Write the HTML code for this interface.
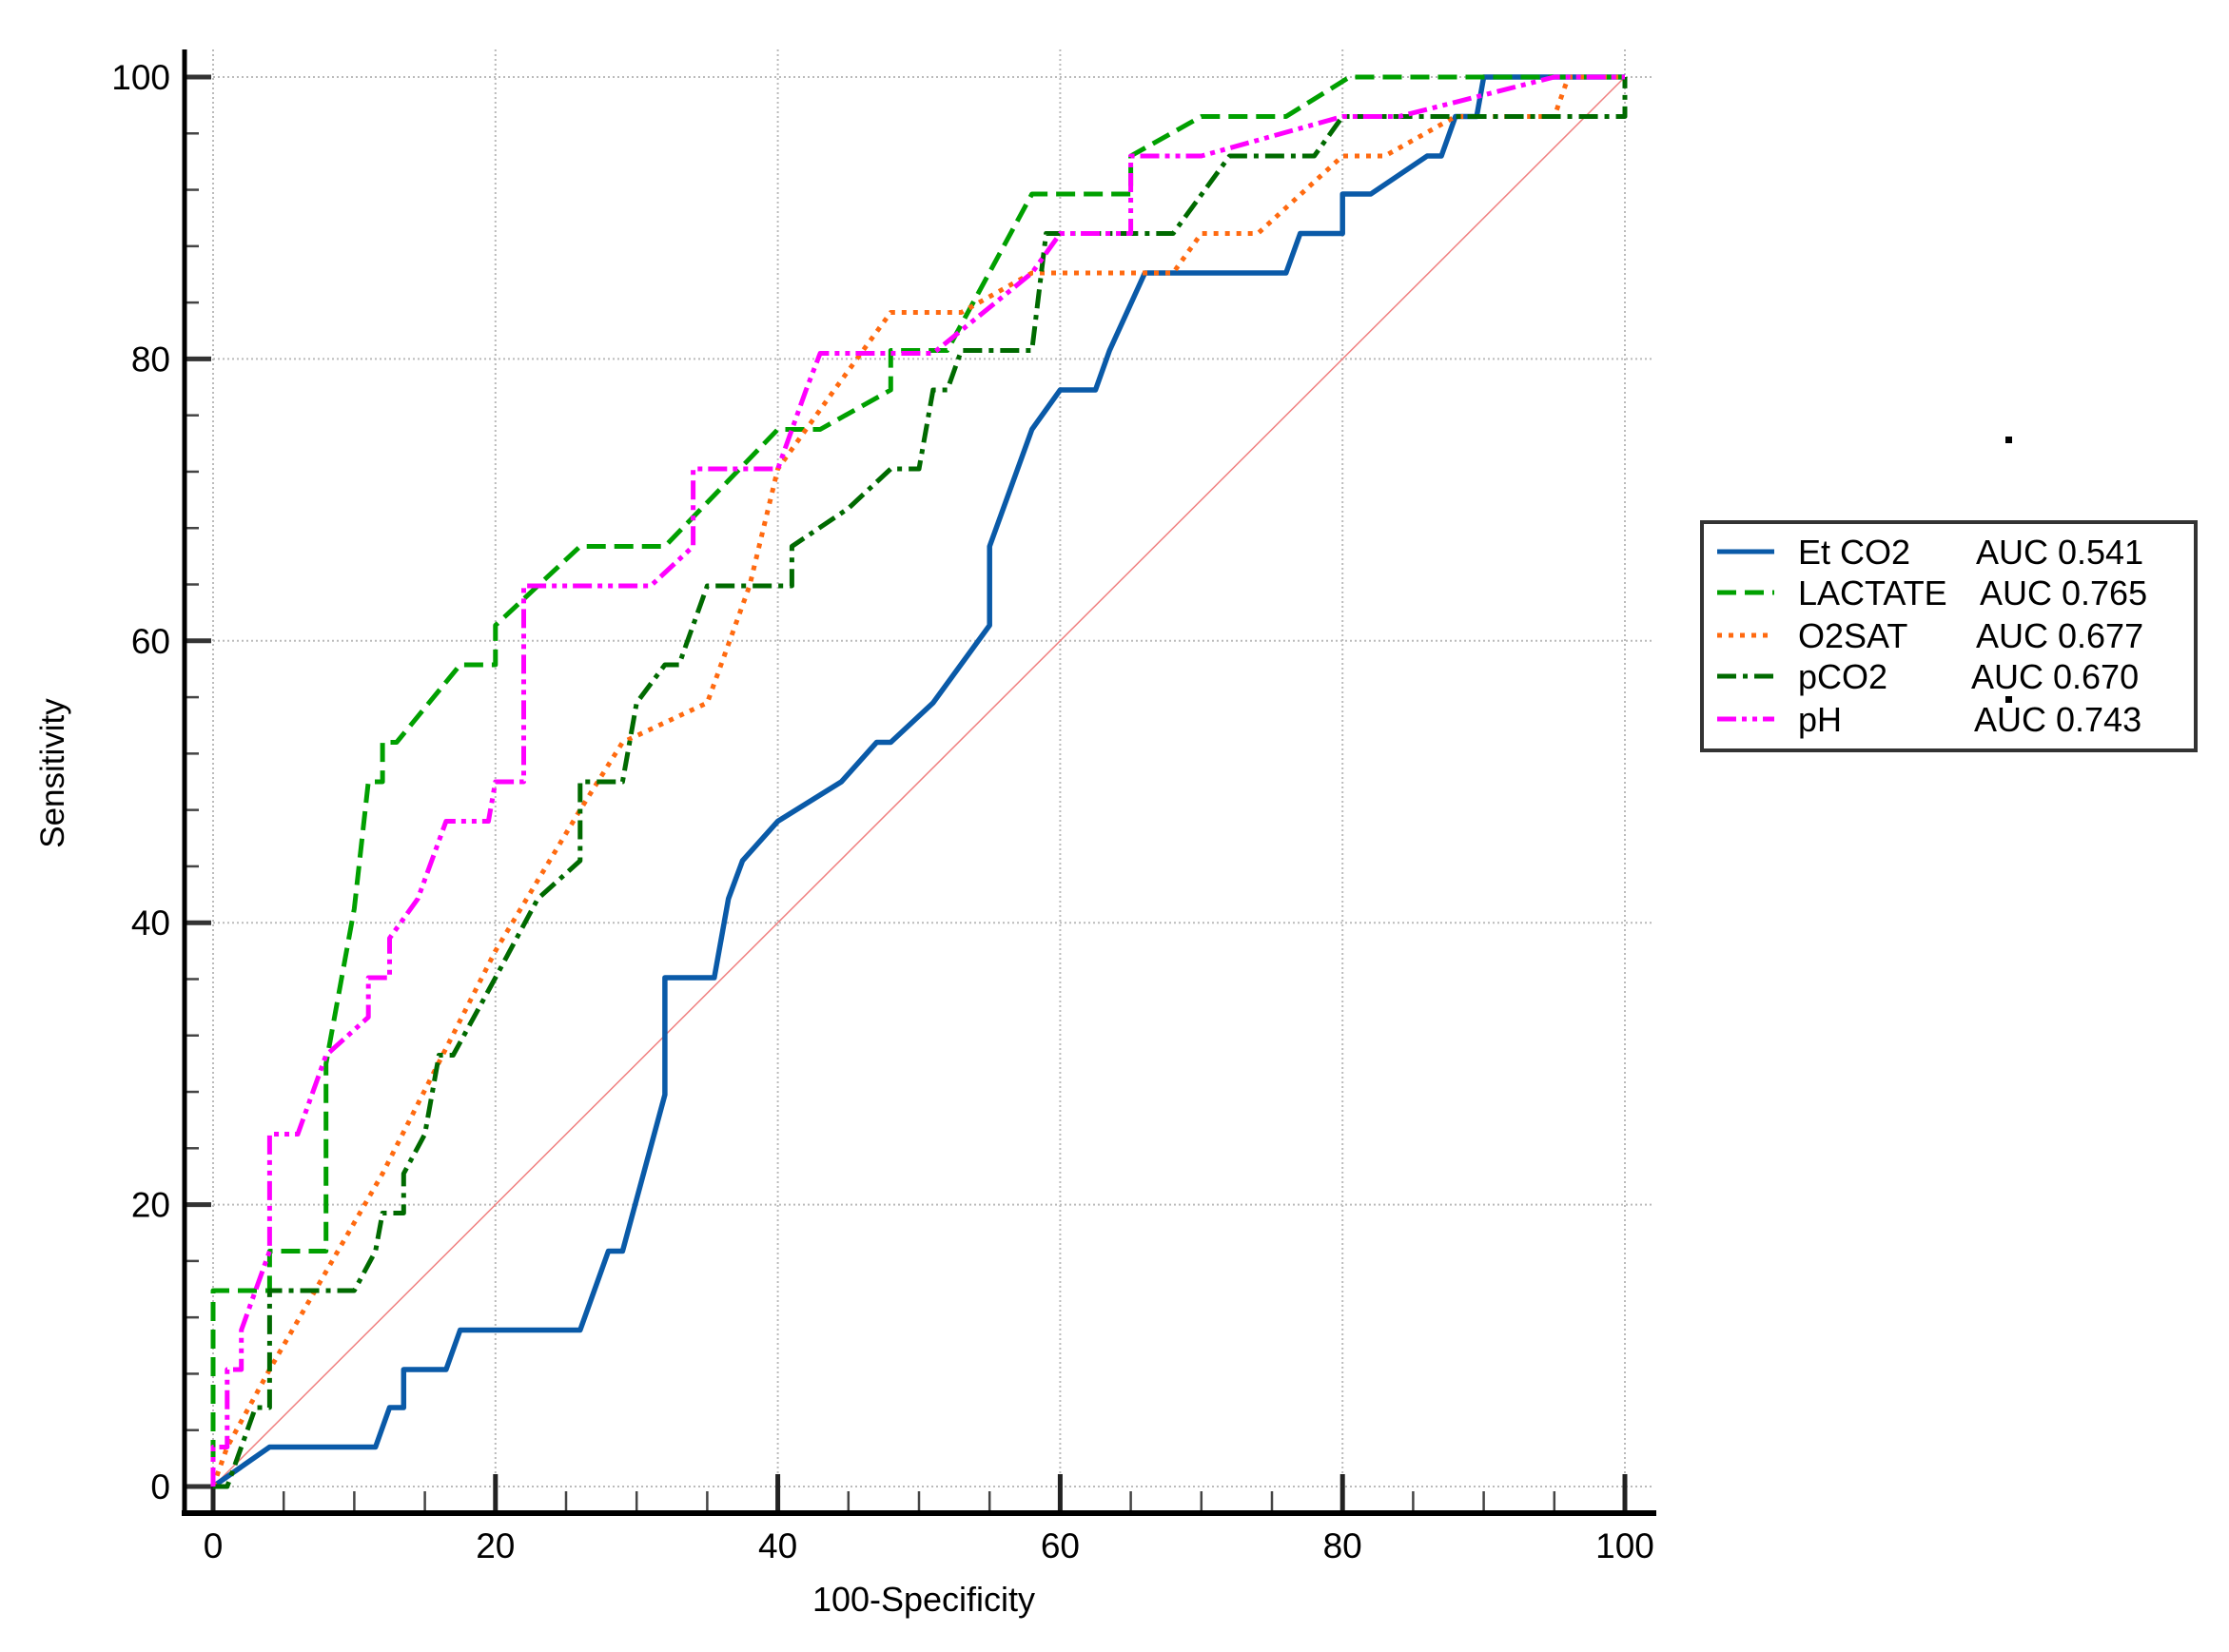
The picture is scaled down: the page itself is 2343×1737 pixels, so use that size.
<!DOCTYPE html>
<html><head><meta charset="utf-8"><style>
html,body{margin:0;padding:0;background:#fff;}
svg{display:block;font-family:"Liberation Sans",Arial,sans-serif;}
</style></head><body>
<svg id="chart" width="2343" height="1737" viewBox="0 0 2343 1737">
<g id="grid"></g>
<g id="axes"></g>
<g id="series"></g>
<text x="971" y="1694" font-size="36" text-anchor="middle">100-Specificity</text>
<text x="67" y="813" font-size="35" text-anchor="middle" transform="rotate(-90 67 813)">Sensitivity</text>
<rect x="2108" y="459" width="7" height="7" fill="#000"/>
<g>
<rect x="1789" y="549" width="519" height="240" fill="#fff" stroke="#333" stroke-width="4"/>
<g id="legend-items"></g>
<rect x="2108" y="732" width="7" height="7" fill="#000"/>
</g>
</svg>
<script>
const xTicks=[0,20,40,60,80,100];
const yTicks=[0,20,40,60,80,100];
const seriesNames=["Et CO2","LACTATE","O2SAT","pCO2","pH"];
const aucLabels=["AUC 0.541","AUC 0.765","AUC 0.677","AUC 0.670","AUC 0.743"];
const etco2X=[0,4,11.5,12.5,13.5,13.5,16.5,17.5,26,28,29,32,32,35.5,36.5,37.5,40,44.5,47,48,51,55,55,58,60,62.5,63.5,66,76,77,80,80,82,86,87,88,89.5,90,100];
const etco2Y=[0,2.8,2.8,5.6,5.6,8.3,8.3,11.1,11.1,16.7,16.7,27.8,36.1,36.1,41.7,44.4,47.2,50,52.8,52.8,55.6,61.1,66.7,75,77.8,77.8,80.6,86.1,86.1,88.9,88.9,91.7,91.7,94.4,94.4,97.2,97.2,100,100];
const lactX=[0,0,4,4,8,8,10,11,12,12,13,17.5,20,20,26,32,40,43,48,48,52,58,65,65,70,76,80.5,100];
const lactY=[0,13.9,13.9,16.7,16.7,30,41,50,50,52.8,52.8,58.3,58.3,61.1,66.7,66.7,75,75,77.8,80.6,80.6,91.7,91.7,94.4,97.2,97.2,100,100];
const o2X=[0,1,4,12,20,26,29,35,38,40,44,48,53,58,68,70,74,80,83,88,95,96,100];
const o2Y=[0,2.8,8.3,22.2,38,48,52.8,55.6,63.9,72.2,77.8,83.3,83.3,86.1,86.1,88.9,88.9,94.4,94.4,97.2,97.2,100,100];
const pco2X=[0,1,3,4,4,10,11.5,12,13.5,13.5,15,16,17,20,23,26,26,29,30,32,33,35,41,41,45,48,50,51,52,53,58,59,68,72,78,80,100,100];
const pco2Y=[0,0,5.6,5.6,13.9,13.9,16.7,19.4,19.4,22.2,25,30.6,30.6,36.1,41.7,44.4,50,50,55.6,58.3,58.3,63.9,63.9,66.7,69.4,72.2,72.2,77.8,77.8,80.6,80.6,88.9,88.9,94.4,94.4,97.2,97.2,100];
const phX=[0,0,1,1,2,2,4,4,6,8,11,11,12.5,12.5,14.5,16.5,19.5,20,22,22,31,34,34,40,42,43,51,58,60,65,65,70,80,84,95,100];
const phY=[0,2.8,2.8,8.3,8.3,11.1,16.7,25,25,30.6,33.3,36.1,36.1,38.9,41.7,47.2,47.2,50,50,63.9,63.9,66.7,72.2,72.2,77.8,80.4,80.4,86.1,88.9,88.9,94.4,94.4,97.2,97.2,100,100];

const NS="http://www.w3.org/2000/svg";
const X0=224,X1=1708,Y0=1563,Y1=81;
function sx(v){return X0+(X1-X0)*v/100;}
function sy(v){return Y0-(Y0-Y1)*v/100;}
function mk(tag,attrs,parent){const e=document.createElementNS(NS,tag);for(const k in attrs)e.setAttribute(k,attrs[k]);parent.appendChild(e);return e;}
const grid=document.getElementById('grid'),axes=document.getElementById('axes'),ser=document.getElementById('series');

xTicks.forEach(t=>{
  const g=mk('line',{x1:sx(t),x2:sx(t),y1:52,y2:Y0,stroke:'#bbb','stroke-width':2,'stroke-dasharray':'2,3'},grid);
  
  
  const tk=mk('line',{x1:sx(t),x2:sx(t),y1:1590,y2:1550,stroke:'#222','stroke-width':5},axes);
  
  
  const lb=mk('text',{x:sx(t),y:1638,'font-size':37,'text-anchor':'middle'},axes);
  lb.textContent=t;
  
  
});
for(let v=5;v<100;v+=5){ if(v%20===0)continue;
  const tk=mk('line',{x1:sx(v),x2:sx(v),y1:1590,y2:1568,stroke:'#444','stroke-width':2.5},axes);
  
  
}
yTicks.forEach(t=>{
  const g=mk('line',{x1:X0,x2:1738,y1:sy(t),y2:sy(t),stroke:'#bbb','stroke-width':2,'stroke-dasharray':'2,3'},grid);
  
  
  const tk=mk('line',{x1:196,x2:222,y1:sy(t),y2:sy(t),stroke:'#333','stroke-width':5},axes);
  
  
  const lb=mk('text',{x:179,y:sy(t)+13,'font-size':37,'text-anchor':'end'},axes);
  lb.textContent=t;
  
  
});
for(let v=4;v<100;v+=4){ if(v%20===0)continue;
  const tk=mk('line',{x1:196,x2:209,y1:sy(v),y2:sy(v),stroke:'#444','stroke-width':2.5},axes);
  
  
}
const ya=mk('line',{x1:194,x2:194,y1:52,y2:1594,stroke:'#000','stroke-width':5},axes);


const xa=mk('line',{x1:191,x2:1741,y1:1591,y2:1591,stroke:'#000','stroke-width':6},axes);



const diag=mk('line',{x1:sx(0),y1:sy(0),x2:sx(100),y2:sy(100),stroke:'#f08080','stroke-width':1.5},ser);



const styles=[
 {c:'#0a5aa8',d:'',n:'etco2-curve',xs:etco2X,ys:etco2Y},
 {c:'#00a000',d:'20,9',n:'lactate-curve',xs:lactX,ys:lactY},
 {c:'#ff6a10',d:'5,7',n:'o2sat-curve',xs:o2X,ys:o2Y},
 {c:'#006a00',d:'20,7,5,7',n:'pco2-curve',xs:pco2X,ys:pco2Y},
 {c:'#ff00ff',d:'20,6,5,6,5,6',n:'ph-curve',xs:phX,ys:phY}
];
styles.forEach(s=>{
  const pts=s.xs.map((x,i)=>sx(x).toFixed(1)+','+sy(s.ys[i]).toFixed(1)).join(' ');
  const p=mk('polyline',{points:pts,fill:'none',stroke:s.c,'stroke-width':s.d?5:5.5,'stroke-dasharray':s.d,'stroke-linejoin':'round'},ser);
  
  
});
const li=document.getElementById('legend-items');
const rowY=[580,623,668,711,756];
const aucX=[2077,2081,2077,2072,2075];
styles.forEach((s,i)=>{
  const g=mk('g',{},li);
  
  
  mk('line',{x1:1805,x2:1865,y1:rowY[i],y2:rowY[i],stroke:s.c,'stroke-width':5,'stroke-dasharray':s.d},g);
  const t=mk('text',{x:1890,y:rowY[i]+13,'font-size':36},g);
  t.textContent=seriesNames[i];
  const a=mk('text',{x:aucX[i],y:rowY[i]+13,'font-size':36},g);
  a.textContent=aucLabels[i];
});
</script>
</body></html>
